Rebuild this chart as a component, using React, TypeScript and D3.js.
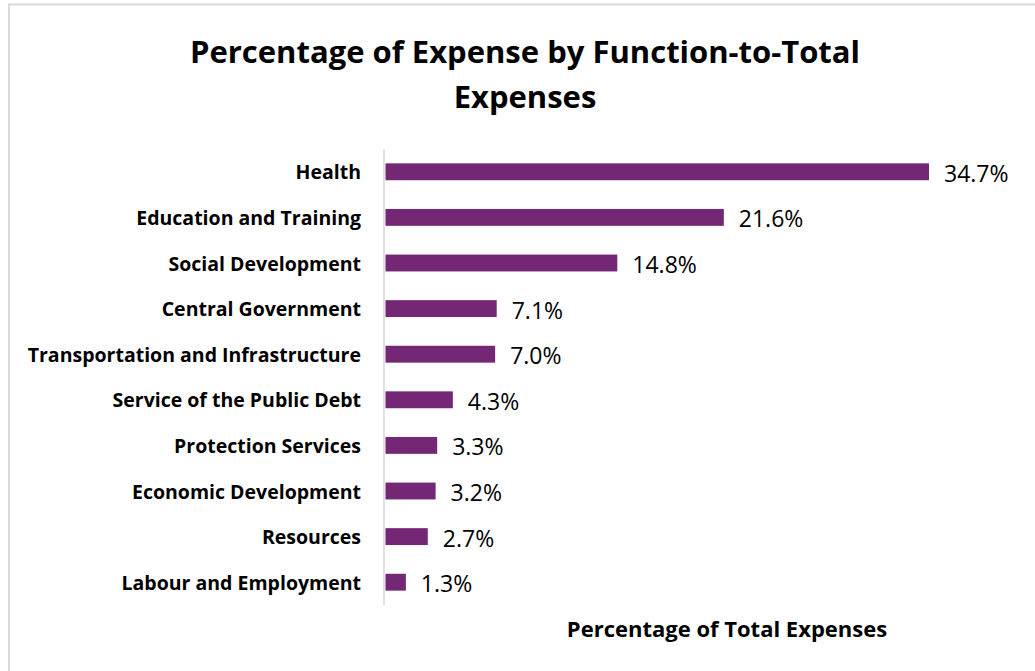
import React from "react";
import * as d3 from "d3";

const categories = [
  "Health",
  "Education and Training",
  "Social Development",
  "Central Government",
  "Transportation and Infrastructure",
  "Service of the Public Debt",
  "Protection Services",
  "Economic Development",
  "Resources",
  "Labour and Employment",
];
const values = [34.7, 21.6, 14.8, 7.1, 7.0, 4.3, 3.3, 3.2, 2.7, 1.3];
const titleLines = ["Percentage of Expense by Function-to-Total", "Expenses"];
const axisTitle = "Percentage of Total Expenses";

const W = 1035;
const H = 671;
const FONT = "'Open Sans', sans-serif";

export default function App() {
  const x0 = 385.5;
  const x = d3.scaleLinear().domain([0, 34.7]).range([x0, 929]);
  const y = d3
    .scaleBand<string>()
    .domain(categories)
    .range([149, 605])
    .paddingInner(0.63)
    .paddingOuter(0.315);
  const bw = y.bandwidth();
  return (
    <svg
      width={W}
      height={H}
      style={{ position: "absolute", left: 0, top: 0, background: "#fff" }}
    >
      <rect x={0} y={0} width={W} height={H} fill="#fff" />
      <line x1={9} y1={4} x2={9} y2={H} stroke="#d9d9d9" strokeWidth={2} />
      <line x1={8} y1={4.5} x2={W} y2={4.5} stroke="#d9d9d9" strokeWidth={2} />
      {titleLines.map((t, i) => (
        <text
          key={t}
          x={525}
          y={51 + i * 45}
          textAnchor="middle"
          dominantBaseline="central"
          fontFamily={FONT}
          fontWeight="bold"
          fontSize={31}
          fill="#000"
        >
          {t}
        </text>
      ))}
      <line x1={384} x2={384} y1={149} y2={605} stroke="#d9d9d9" strokeWidth={1.5} />
      {categories.map((c, i) => {
        const yy = y(c)!;
        return (
          <g key={c}>
            <rect x={x(0)} y={yy} width={x(values[i]) - x(0)} height={bw} fill="#732775" />
            <text
              x={361}
              y={yy + bw / 2}
              textAnchor="end"
              dominantBaseline="central"
              fontFamily={FONT}
              fontWeight="bold"
              fontSize={19.5}
              fill="#000"
            >
              {c}
            </text>
            <text
              x={x(values[i]) + 15}
              y={yy + bw / 2 + 1}
              textAnchor="start"
              dominantBaseline="central"
              fontFamily={FONT}
              fontSize={23}
              fill="#000"
            >
              {values[i].toFixed(1) + "%"}
            </text>
          </g>
        );
      })}
      <text
        x={727}
        y={628}
        textAnchor="middle"
        dominantBaseline="central"
        fontFamily={FONT}
        fontWeight="bold"
        fontSize={22}
        fill="#000"
      >
        {axisTitle}
      </text>
    </svg>
  );
}
